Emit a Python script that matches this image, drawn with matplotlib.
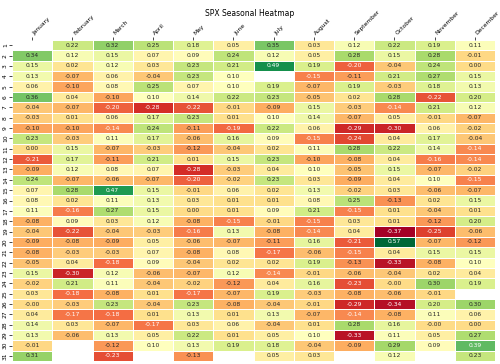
import numpy as np
import pandas as pd
import seaborn as sns
import matplotlib
matplotlib.use("Agg")
import matplotlib.pyplot as plt

nan = np.nan
months = ["January", "February", "March", "April", "May", "June", "July",
          "August", "September", "October", "November", "December"]
days = list(range(1, 32))

jan = [nan, .34, .15, .13, .06, .36, -.04, -.03, -.10, .23, .00, -.21, -.09, .24, .07, .08,
       .11, -.08, -.04, -.09, -.08, -.05, .15, -.02, .03, -.00, .04, .14, .13, -.01, .31]
feb = [.22, .12, .02, -.07, -.10, .04, -.07, .01, -.10, -.03, .15, .17, .12, -.07, .28, .02,
       -.16, .09, -.22, -.08, -.03, .04, -.30, .21, -.18, -.03, -.17, .03, -.06, nan, nan]
mar = [.32, .15, .12, .06, .08, -.10, -.20, .06, -.14, .11, -.07, -.11, .08, -.06, .47, .11,
       .27, .03, -.04, -.09, -.03, -.18, .12, .11, -.08, .23, -.18, -.07, .13, -.12, -.23]
apr = [.25, .07, .03, -.04, .25, .10, -.28, .17, .24, .17, -.03, .21, .07, -.07, .15, .13,
       .15, .12, -.03, .05, .07, .09, -.06, -.04, .01, -.04, .01, -.17, .05, .10, nan]
may = [.18, .09, .23, .23, .07, .14, -.22, .23, -.11, -.06, -.12, .01, -.28, -.20, -.01, .03,
       .00, -.08, -.16, -.06, -.08, -.04, -.07, -.02, -.17, .23, .13, .03, .22, .13, -.13]
jun = [.05, .24, .21, .10, .10, .22, -.01, .01, -.19, .16, -.04, .15, -.03, -.02, .06, .01,
       .01, -.15, .13, -.07, .08, .02, .12, -.12, -.07, -.08, .01, .06, .01, .19, nan]
jul = [.35, .12, .49, nan, .19, .23, -.09, .10, .22, .09, .02, .23, .04, .23, .02, .01,
       .09, -.01, -.08, -.11, -.17, .02, -.14, .04, .19, -.04, .13, -.04, .05, .18, .05]
aug = [.03, .05, .19, -.15, -.07, -.05, .15, .14, .06, -.15, .11, -.10, .10, .03, .13, .08,
       .21, -.15, -.14, .16, -.06, .19, -.01, .16, -.03, -.01, -.07, .01, .10, -.04, .03]
sep = [.12, .28, -.20, -.11, .19, .02, -.03, -.07, -.29, -.24, .28, -.08, -.05, -.09, -.02, .25,
       -.15, .03, .04, -.21, -.15, -.13, -.06, -.23, -.08, -.29, -.14, .28, -.33, -.09, nan]
oct_ = [.22, .15, -.04, .21, -.03, .28, -.14, .05, -.30, .04, .22, .04, .15, .04, .03, -.13,
        .01, .01, -.37, .57, .04, -.33, -.04, -.00, -.06, -.34, -.08, .16, .11, .29, .12]
nov = [.19, .28, .24, .27, .18, -.22, .21, -.01, .06, .17, .14, -.16, -.07, .10, -.06, .02,
       -.04, -.12, -.25, -.07, .15, -.08, .02, .30, -.01, .20, .11, -.00, .05, .09, nan]
dec = [.11, -.01, .00, .15, .13, .20, .12, -.07, -.02, -.04, -.14, -.14, -.02, -.15, -.07, .15,
       .01, .20, -.06, -.12, .15, .10, .04, .19, nan, .30, .06, .00, .27, .39, .23]

df = pd.DataFrame(dict(zip(months, [jan, feb, mar, apr, may, jun, jul, aug, sep, oct_, nov, dec])),
                  index=days)

fig, ax = plt.subplots(figsize=(5, 3.64), dpi=100)
sns.heatmap(df, cmap="RdYlGn", annot=True, fmt=".2f", cbar=False,
            linewidths=0.5, linecolor="white",
            xticklabels=months, yticklabels=days,
            annot_kws={"fontsize": 4.3}, ax=ax)
ax.xaxis.tick_top()
ax.set_xticks(np.arange(len(months)) + 0.5)
ax.set_xticklabels(months, rotation=45, ha="left", fontsize=4.3)
ax.set_yticks(np.arange(len(days)) + 0.5)
ax.set_yticklabels(days, rotation=90, va="center", fontsize=4.3)
ax.tick_params(length=2, width=0.5, pad=1)
fig.text(0.5, 0.975, "SPX Seasonal Heatmap", ha="center", va="top", fontsize=5.5)
plt.subplots_adjust(left=0.024, right=0.99, top=0.89, bottom=0.008)
plt.savefig("out.png", dpi=100)
